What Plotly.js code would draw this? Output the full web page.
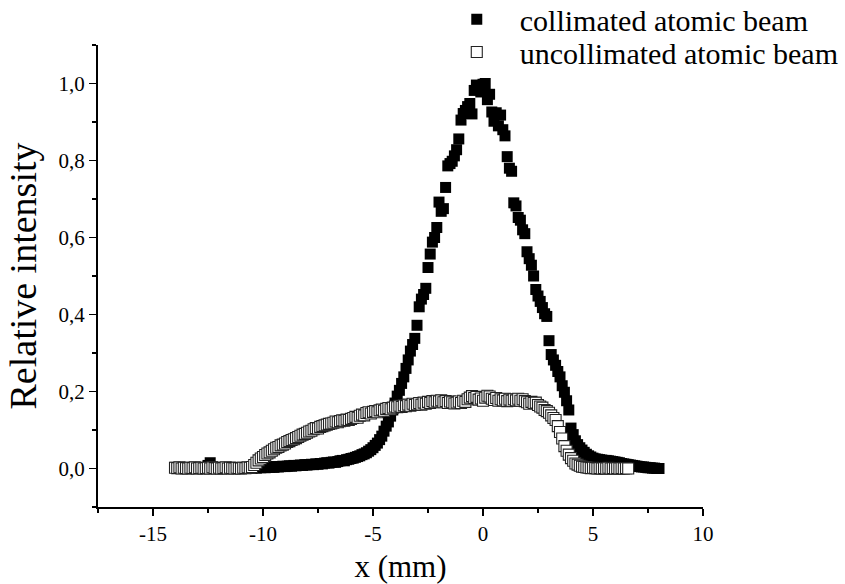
<!DOCTYPE html>
<html>
<head>
<meta charset="utf-8">
<script src="https://cdn.plot.ly/plotly-3.0.1.min.js"></script>
<style>html,body{margin:0;padding:0;background:#fff;}#chart{width:845px;height:584px;}</style>
</head>
<body>
<div id="chart"></div>
<script>
// Collimated atomic beam (filled squares)
const xCollimated = [
-14.0,-13.9,-13.8,-13.7,-13.6,-13.5,-13.4,-13.3,-13.2,-13.1,
-13.0,-12.9,-12.8,-12.7,-12.6,-12.5,-12.4,-12.3,-12.2,-12.1,
-12.0,-11.9,-11.8,-11.7,-11.6,-11.5,-11.4,-11.3,-11.2,-11.1,
-11.0,-10.9,-10.8,-10.7,-10.6,-10.5,-10.4,-10.3,-10.2,-10.1,
-10.0,-9.9,-9.8,-9.7,-9.6,-9.5,-9.4,-9.3,-9.2,-9.1,
-9.0,-8.9,-8.8,-8.7,-8.6,-8.5,-8.4,-8.3,-8.2,-8.1,
-8.0,-7.9,-7.8,-7.7,-7.6,-7.5,-7.4,-7.3,-7.2,-7.1,
-7.0,-6.9,-6.8,-6.7,-6.6,-6.5,-6.4,-6.3,-6.2,-6.1,
-6.0,-5.9,-5.8,-5.7,-5.6,-5.5,-5.4,-5.3,-5.2,-5.1,
-5.0,-4.9,-4.8,-4.7,-4.6,-4.5,-4.4,-4.3,-4.2,-4.1,
-4.0,-3.9,-3.8,-3.7,-3.6,-3.5,-3.4,-3.3,-3.2,-3.1,
-3.0,-2.9,-2.8,-2.7,-2.6,-2.5,-2.4,-2.3,-2.2,-2.1,
-2.0,-1.9,-1.8,-1.7,-1.6,-1.5,-1.4,-1.3,-1.2,-1.1,
-1.0,-0.9,-0.8,-0.7,-0.6,-0.5,-0.4,-0.3,-0.2,-0.1,
0.0,0.1,0.2,0.3,0.4,0.5,0.6,0.7,0.8,0.9,
1.0,1.1,1.2,1.3,1.4,1.5,1.6,1.7,1.8,1.9,
2.0,2.1,2.2,2.3,2.4,2.5,2.6,2.7,2.8,2.9,
3.0,3.1,3.2,3.3,3.4,3.5,3.6,3.7,3.8,3.9,
4.0,4.1,4.2,4.3,4.4,4.5,4.6,4.7,4.8,4.9,
5.0,5.1,5.2,5.3,5.4,5.5,5.6,5.7,5.8,5.9,
6.0,6.1,6.2,6.3,6.4,6.5,6.6,6.7,6.8,6.9,
7.0,7.1,7.2,7.3,7.4,7.5,7.6,7.7,7.8,7.9,
8.0];
const yCollimated = [
0.003,0.002,0.001,0.002,0.000,0.001,0.002,0.000,0.001,0.003,
0.001,0.000,0.002,0.001,0.003,0.008,0.015,0.004,0.001,0.000,
0.002,0.001,0.000,0.002,0.001,0.003,0.000,0.001,0.002,0.000,
0.001,0.002,0.001,0.000,0.002,0.001,0.002,0.001,0.003,0.002,
0.003,0.002,0.004,0.003,0.004,0.003,0.005,0.004,0.005,0.006,
0.005,0.006,0.007,0.006,0.008,0.007,0.008,0.009,0.008,0.010,
0.009,0.010,0.011,0.010,0.012,0.011,0.013,0.012,0.014,0.015,
0.014,0.016,0.017,0.016,0.018,0.020,0.021,0.020,0.023,0.024,
0.026,0.027,0.029,0.031,0.033,0.036,0.038,0.041,0.045,0.049,
0.054,0.060,0.066,0.075,0.084,0.097,0.110,0.121,0.136,0.152,
0.170,0.188,0.203,0.221,0.238,0.260,0.282,0.305,0.322,0.338,
0.372,0.420,0.440,0.452,0.468,0.522,0.557,0.588,0.600,0.626,
0.692,0.668,0.675,0.730,0.786,0.792,0.798,0.812,0.828,0.856,
0.905,0.922,0.930,0.940,0.948,0.921,0.982,0.996,0.990,0.978,
0.998,1.000,0.958,0.972,0.926,0.902,0.924,0.890,0.918,0.880,
0.864,0.810,0.780,0.772,0.690,0.682,0.652,0.645,0.620,0.610,
0.563,0.545,0.528,0.500,0.465,0.448,0.434,0.418,0.402,0.395,
0.332,0.296,0.282,0.268,0.252,0.238,0.215,0.198,0.176,0.152,
0.105,0.088,0.072,0.062,0.054,0.048,0.042,0.037,0.033,0.030,
0.027,0.025,0.024,0.023,0.022,0.021,0.021,0.020,0.019,0.018,
0.017,0.016,0.015,0.013,0.012,0.011,0.010,0.009,0.008,0.007,
0.006,0.005,0.004,0.004,0.003,0.002,0.002,0.001,0.001,0.000,
0.000];

// Uncollimated atomic beam (open squares)
const xUncollimated = [
-14.0,-13.9,-13.8,-13.7,-13.6,-13.5,-13.4,-13.3,-13.2,-13.1,
-13.0,-12.9,-12.8,-12.7,-12.6,-12.5,-12.4,-12.3,-12.2,-12.1,
-12.0,-11.9,-11.8,-11.7,-11.6,-11.5,-11.4,-11.3,-11.2,-11.1,
-11.0,-10.9,-10.8,-10.7,-10.6,-10.5,-10.4,-10.3,-10.2,-10.1,
-10.0,-9.9,-9.8,-9.7,-9.6,-9.5,-9.4,-9.3,-9.2,-9.1,
-9.0,-8.9,-8.8,-8.7,-8.6,-8.5,-8.4,-8.3,-8.2,-8.1,
-8.0,-7.9,-7.8,-7.7,-7.6,-7.5,-7.4,-7.3,-7.2,-7.1,
-7.0,-6.9,-6.8,-6.7,-6.6,-6.5,-6.4,-6.3,-6.2,-6.1,
-6.0,-5.9,-5.8,-5.7,-5.6,-5.5,-5.4,-5.3,-5.2,-5.1,
-5.0,-4.9,-4.8,-4.7,-4.6,-4.5,-4.4,-4.3,-4.2,-4.1,
-4.0,-3.9,-3.8,-3.7,-3.6,-3.5,-3.4,-3.3,-3.2,-3.1,
-3.0,-2.9,-2.8,-2.7,-2.6,-2.5,-2.4,-2.3,-2.2,-2.1,
-2.0,-1.9,-1.8,-1.7,-1.6,-1.5,-1.4,-1.3,-1.2,-1.1,
-1.0,-0.9,-0.8,-0.7,-0.6,-0.5,-0.4,-0.3,-0.2,-0.1,
0.0,0.1,0.2,0.3,0.4,0.5,0.6,0.7,0.8,0.9,
1.0,1.1,1.2,1.3,1.4,1.5,1.6,1.7,1.8,1.9,
2.0,2.1,2.2,2.3,2.4,2.5,2.6,2.7,2.8,2.9,
3.0,3.1,3.2,3.3,3.4,3.5,3.6,3.7,3.8,3.9,
4.0,4.1,4.2,4.3,4.4,4.5,4.6,4.7,4.8,4.9,
5.0,5.1,5.2,5.3,5.4,5.5,5.6,5.7,5.8,5.9,
6.0,6.1,6.2,6.3,6.4,6.5,6.6];
const yUncollimated = [
0.002,0.001,0.003,0.000,0.002,0.001,0.000,0.002,0.001,0.003,
0.000,0.001,0.002,0.000,0.001,0.002,0.000,0.003,0.001,0.000,
0.002,0.000,0.001,0.003,0.000,0.002,0.001,0.000,0.002,0.001,
0.000,0.002,0.001,0.003,0.002,0.004,0.009,0.015,0.021,0.026,
0.030,0.035,0.039,0.042,0.046,0.050,0.054,0.056,0.060,0.062,
0.065,0.069,0.071,0.074,0.076,0.079,0.082,0.085,0.088,0.090,
0.093,0.096,0.098,0.102,0.105,0.104,0.108,0.110,0.112,0.114,
0.116,0.117,0.119,0.122,0.120,0.123,0.125,0.124,0.127,0.126,
0.129,0.131,0.134,0.132,0.137,0.140,0.138,0.144,0.146,0.143,
0.147,0.149,0.146,0.151,0.153,0.150,0.155,0.157,0.154,0.158,
0.161,0.159,0.163,0.160,0.164,0.162,0.166,0.163,0.168,0.165,
0.167,0.170,0.166,0.171,0.168,0.173,0.170,0.175,0.172,0.176,
0.174,0.177,0.172,0.175,0.170,0.174,0.172,0.169,0.171,0.174,
0.170,0.176,0.173,0.180,0.184,0.188,0.183,0.186,0.179,0.182,
0.176,0.184,0.189,0.187,0.181,0.178,0.183,0.176,0.180,0.177,
0.181,0.175,0.179,0.176,0.180,0.177,0.181,0.176,0.180,0.175,
0.172,0.168,0.173,0.170,0.171,0.165,0.161,0.158,0.152,0.149,
0.145,0.138,0.131,0.126,0.110,0.095,0.078,0.058,0.046,0.036,
0.027,0.020,0.013,0.010,0.007,0.005,0.004,0.003,0.002,0.001,
0.002,0.001,0.000,0.001,0.000,0.001,0.000,0.002,0.000,0.001,
0.000,0.001,0.000,0.001,0.000,0.001,0.000];

const seriesNames = ['collimated atomic beam', 'uncollimated atomic beam'];
const xTickVals = [-15, -10, -5, 0, 5, 10];
const xTickText = ['-15', '-10', '-5', '0', '5', '10'];
const yTickVals = [0, 0.2, 0.4, 0.6, 0.8, 1.0];
const yTickText = ['0,0', '0,2', '0,4', '0,6', '0,8', '1,0'];
const xTitle = 'x (mm)';
const yTitle = 'Relative intensity';

const FONT = 'Liberation Serif';

const traces = [
  {
    x: xCollimated, y: yCollimated, name: seriesNames[0],
    type: 'scatter', mode: 'markers', legend: 'legend',
    marker: {symbol: 'square', size: 11, color: '#000', line: {width: 0}},
    cliponaxis: false
  },
  {
    x: xUncollimated, y: yUncollimated, name: seriesNames[1],
    type: 'scatter', mode: 'markers', legend: 'legend2',
    marker: {symbol: 'square', size: 11, color: '#fff', line: {width: 1.1, color: '#222'}},
    cliponaxis: false
  }
];

function axBase() {
  return {
    showline: true, linecolor: '#000', linewidth: 2,
    ticks: 'outside', ticklen: 7, tickwidth: 1.5, tickcolor: '#000',
    showgrid: false, zeroline: false, mirror: false,
    tickmode: 'array', automargin: false,
    tickfont: {family: FONT, size: 21, color: '#000'}
  };
}

const layout = {
  width: 845, height: 584,
  margin: {l: 98, r: 142, t: 45, b: 77, autoexpand: false},
  paper_bgcolor: '#fff', plot_bgcolor: '#fff',
  font: {family: FONT, size: 21, color: '#000'},
  xaxis: Object.assign(axBase(), {
    range: [-17.5, 10],
    tickvals: xTickVals, ticktext: xTickText,
    minor: {tickmode: 'linear', tick0: 0, dtick: 2.5, ticks: 'outside', ticklen: 4, tickwidth: 1.5, tickcolor: '#000', showgrid: false},
    title: {text: xTitle, font: {family: FONT, size: 31, color: '#000'}, standoff: 10}
  }),
  yaxis: Object.assign(axBase(), {
    range: [-0.1, 1.1],
    tickvals: yTickVals, ticktext: yTickText,
    minor: {tickmode: 'linear', tick0: 0, dtick: 0.1, ticks: 'outside', ticklen: 4, tickwidth: 1.5, tickcolor: '#000', showgrid: false},
    title: {text: yTitle, font: {family: FONT, size: 38, color: '#000'}, standoff: 10}
  }),
  showlegend: true,
  legend: {
    x: 0.555, xanchor: 'left', y: 1.056, yanchor: 'middle',
    bgcolor: 'rgba(0,0,0,0)', borderwidth: 0, itemwidth: 76,
    font: {family: FONT, size: 30, color: '#000'}
  },
  legend2: {
    x: 0.555, xanchor: 'left', y: 0.985, yanchor: 'middle',
    bgcolor: 'rgba(0,0,0,0)', borderwidth: 0, itemwidth: 76,
    font: {family: FONT, size: 30, color: '#000'}
  }
};

Plotly.newPlot('chart', traces, layout, {displayModeBar: false, staticPlot: true});
</script>
</body>
</html>
